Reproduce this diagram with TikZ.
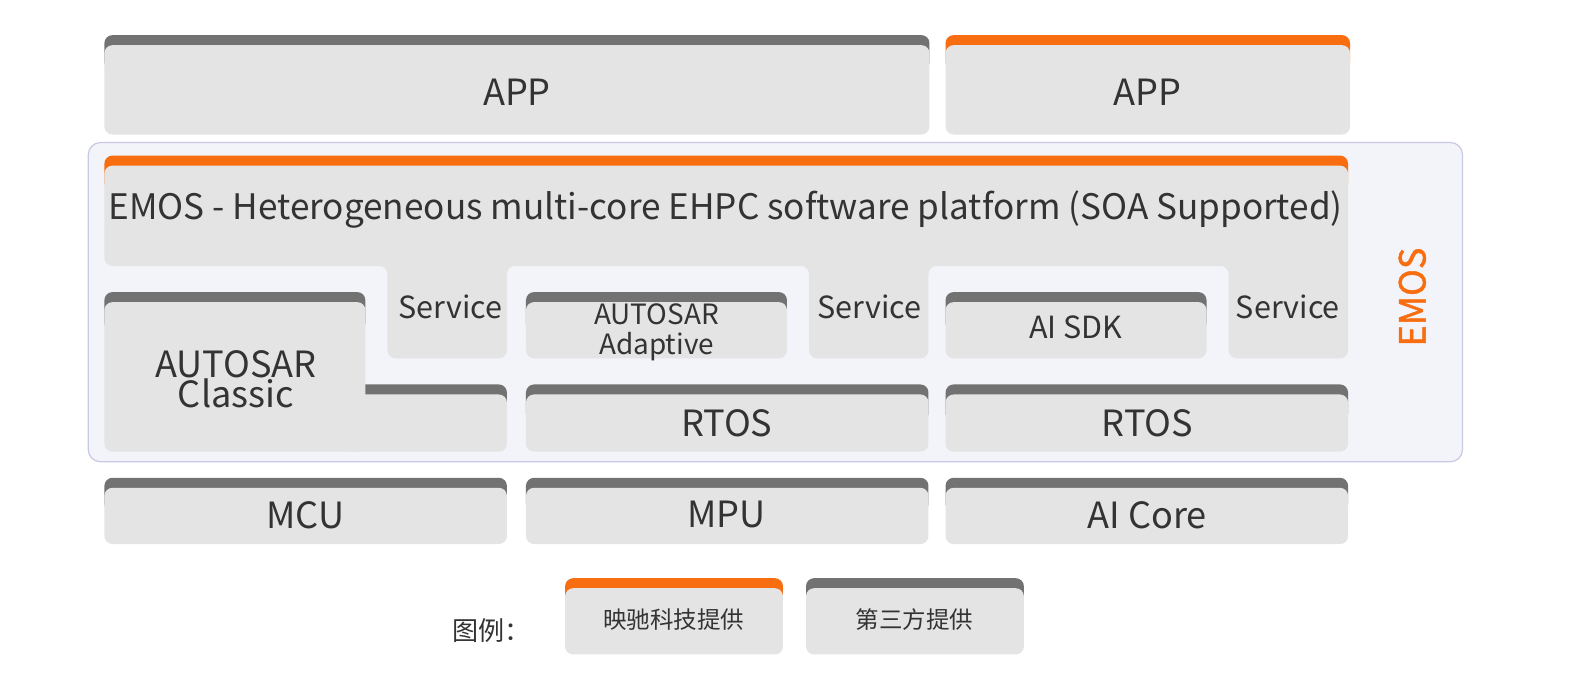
\documentclass[tikz,border=0pt]{standalone}
\usepackage{fontspec}
\setmainfont{Noto Sans CJK SC}
\newfontfamily\sidefont[FakeBold=1.2]{Noto Sans CJK SC}
\usepackage{tikz}

\definecolor{boxgray}{RGB}{228,228,228}
\definecolor{capgray}{RGB}{114,114,114}
\definecolor{caporange}{RGB}{247,109,15}
\definecolor{panelfill}{RGB}{243,244,249}
\definecolor{panelline}{RGB}{200,200,226}
\definecolor{txtgray}{RGB}{51,51,51}

\begin{document}
\begin{tikzpicture}[x=0.5pt,y=0.5pt,yscale=-1,xscale=1,
  box/.style={fill=boxgray,rounded corners=4pt},
  capg/.style={fill=capgray,rounded corners=4pt},
  capo/.style={fill=caporange,rounded corners=4pt},
  big/.style={text=txtgray,font=\fontsize{18}{18}\selectfont,inner sep=0pt},
  mid/.style={text=txtgray,font=\fontsize{15.2}{15}\selectfont,inner sep=0pt},
  small/.style={text=txtgray,font=\fontsize{11.7}{12}\selectfont,inner sep=0pt}]

%Shape: Rectangle [APP left]
\path [capg] (104,35) rectangle (926,70);
\path [box] (104,45) rectangle (926,134);
%Shape: Rectangle [APP right]
\path [capo] (942,35) rectangle (1345,70);
\path [box] (942,45) rectangle (1345,134);

%Shape: Rectangle [EMOS panel]
\draw [panelline,fill=panelfill,rounded corners=6pt,line width=0.6pt] (88,142) rectangle (1457,460);

%Shape: Polygon [EMOS platform with service columns]
\path [capo] (104,155) rectangle (1343,190);
\path [fill=boxgray,rounded corners=4pt] (104,165) -- (1343,165) -- (1343,357) -- (1224,357) -- (1224,265) -- (925,265) -- (925,357) -- (806,357) -- (806,265) -- (505,265) -- (505,357) -- (386,357) -- (386,265) -- (104,265) -- cycle;

%Shape: Polygon [AUTOSAR Classic]
\path [capg] (104,291) rectangle (364,330);
\path [capg] (340,383) rectangle (505,420);
\path [box] (104,301) rectangle (364,450);
\path [box] (340,393) rectangle (505,450);

%Shape: Rectangle [AUTOSAR Adaptive]
\path [capg] (524,291) rectangle (784,330);
\path [box] (524,301) rectangle (784,357);
%Shape: Rectangle [AI SDK]
\path [capg] (942,291) rectangle (1202,330);
\path [box] (942,301) rectangle (1202,357);
%Shape: Rectangle [RTOS]
\path [capg] (524,383) rectangle (925,420);
\path [box] (524,393) rectangle (925,450);
\path [capg] (942,383) rectangle (1343,420);
\path [box] (942,393) rectangle (1343,450);

%Shape: Rectangle [hardware]
\path [capg] (104,476) rectangle (505,510);
\path [box] (104,486) rectangle (505,542);
\path [capg] (524,476) rectangle (925,510);
\path [box] (524,486) rectangle (925,542);
\path [capg] (942,476) rectangle (1343,510);
\path [box] (942,486) rectangle (1343,542);

%Shape: Rectangle [legend]
\path [capo] (563,576) rectangle (780,610);
\path [box] (563,586) rectangle (780,652);
\path [capg] (803,576) rectangle (1020,610);
\path [box] (803,586) rectangle (1020,652);

% Text Node
\node [big] (appl) at (515,92) {APP};
% Text Node
\node [big] (appr) at (1143,92) {APP};
% Text Node
\node [big,font=\fontsize{17.5}{18}\selectfont] (emostitle) at (723,209) {EMOS - Heterogeneous multi-core EHPC software platform (SOA Supported)};
% Text Node
\node [mid] (srva) at (449,306) {Service};
% Text Node
\node [mid] (srvb) at (866,306) {Service};
% Text Node
\node [mid] (srvc) at (1283,306) {Service};
% Text Node
\node [big,align=center,font=\fontsize{18}{15}\selectfont] (classic) at (235,378) {AUTOSAR\\Classic};
% Text Node
\node [mid,align=center,font=\fontsize{13.9}{15}\selectfont] (adaptive) at (654,331) {AUTOSAR\\Adaptive};
% Text Node
\node [mid] (aisdk) at (1072,326) {AI SDK};
% Text Node
\node [big] (rtosa) at (724,422) {RTOS};
% Text Node
\node [big] (rtosb) at (1143,422) {RTOS};
% Text Node
\node [big] (mcu) at (304,513) {MCU};
% Text Node
\node [big] (mpu) at (724,513) {MPU};
% Text Node
\node [big] (aicore) at (1143,513) {AI Core};
% Text Node
\node [big,text=caporange,rotate=90,font=\fontsize{18}{18}\sidefont] (emosside) at (1407,296) {EMOS};
% Text Node
\node [small,font=\fontsize{13}{13}\selectfont] (legend) at (490,628) {图例：};
% Text Node
\node [small] (ownlbl) at (671,617) {映驰科技提供};
% Text Node
\node [small] (thirdlbl) at (911,617) {第三方提供};

\pgfresetboundingbox
\useasboundingbox (0,0) rectangle (1568.1,690.4);
\end{tikzpicture}
\end{document}
